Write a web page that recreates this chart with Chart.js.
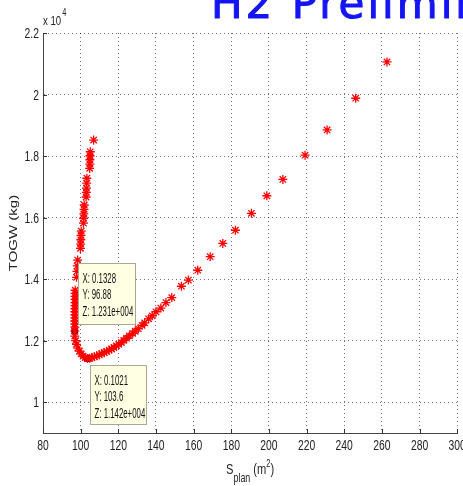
<!DOCTYPE html>
<html>
<head>
<meta charset="utf-8">
<script src="https://cdn.jsdelivr.net/npm/chart.js"></script>
<style>
  html, body { margin: 0; padding: 0; background: #fff; overflow: hidden; }
  #wrap { position: relative; width: 463px; height: 486px; overflow: hidden; }
  #titulo {
    position: absolute; left: 211px; top: -17px;
    font-family: 'DejaVu Sans', sans-serif; font-weight: normal;
    font-size: 42px; line-height: 42px; letter-spacing: 3px;
    color: #1414f5; white-space: nowrap;
    -webkit-text-stroke: 1px #1414f5;
  }
  canvas { position: absolute; left: 0; top: 0; }
</style>
</head>
<body>
<div id="wrap">
  <canvas id="togwChart" width="463" height="486"></canvas>
  <div id="titulo">H2 Preliminary</div>
</div>
<script>
// Superficie en planta (m2) y TOGW (kg) de cada punto del barrido
const splan = [
  106.9,
  105.1, 105.0, 104.9, 104.9, 104.8,
  103.3, 103.2, 103.1, 103.0, 102.9,
  101.9, 101.8, 101.7, 101.6, 101.5,
  100.3, 100.2, 100.1, 100.0, 99.9,
  98.4, 98.2, 98.0, 97.8,
  97.1, 97.1, 97.0, 97.0, 97.0, 97.0, 96.9, 96.9, 96.9, 96.9, 96.9, 96.9, 96.9,
  96.88,
  96.9, 97.3, 97.8, 98.5, 99.3, 100.3, 101.3, 102.4,
  103.6,
  104.8, 106.0, 107.3, 108.6, 109.9, 111.2, 112.5, 113.8, 115.1, 116.4,
  117.7, 119.0, 120.3, 121.6, 122.9, 124.4, 125.9, 127.6, 129.0, 130.6,
  132.6, 134.0, 136.1, 138.0, 140.0, 142.6, 145.3, 148.4,
  153.5, 157.2, 162.2, 168.8, 175.5, 182.2, 190.7, 198.9, 207.4, 219.2,
  230.9, 246.1, 262.7
];
const togw = [
  18520,
  18140, 18010, 17880, 17740, 17600,
  17280, 17120, 16960, 16820, 16670,
  16410, 16270, 16120, 15980, 15820,
  15560, 15420, 15280, 15140, 15000,
  14620, 14430, 14250, 14060,
  13640, 13540, 13440, 13340, 13240, 13140, 13040, 12940, 12840, 12740, 12640, 12540, 12440,
  12310,
  12150, 12000, 11880, 11760, 11660, 11570, 11500, 11450,
  11420,
  11430, 11450, 11480, 11510, 11540, 11580, 11610, 11650, 11690, 11730,
  11780, 11830, 11880, 11940, 12010, 12080, 12160, 12240, 12310, 12390,
  12500, 12580, 12710, 12810, 12940, 13060, 13240, 13400,
  13770, 13970, 14290, 14730, 15160, 15590, 16140, 16710, 17240, 18030,
  18850, 19880, 21060
];

// Cursores de datos (data tips)
const tipParam = [0.1328, 0.1021];
const tipS = [96.88, 103.6];
const tipTogw = [12310, 11420];

// Etiquetas de los ejes
const xTicks = [80, 100, 120, 140, 160, 180, 200, 220, 240, 260, 280, 300];
const yTicks = [10000, 12000, 14000, 16000, 18000, 20000, 22000];

const FUENTE = "'Liberation Sans', Arial, sans-serif";

function formatoZ(v) {
    const e = Math.floor(Math.log10(v));
    const m = (v / Math.pow(10, e)).toFixed(3);
    return m + 'e+' + String(e).padStart(3, '0');
}

// Texto comprimido en horizontal (la captura original esta estrechada)
function textoEstrecho(ctx, txt, x, y, size, align, sx) {
    ctx.save();
    ctx.font = size + 'px ' + FUENTE;
    ctx.textAlign = align;
    ctx.translate(x, y);
    ctx.scale(sx, 1);
    ctx.fillText(txt, 0, 0);
    const w = ctx.measureText(txt).width * sx;
    ctx.restore();
    return w;
}

// Dibuja ticks interiores, etiquetas, titulos y cuadros de los data tips
const decoraciones = {
    id: 'decoraciones',
    afterDraw(chart) {
        const ctx = chart.ctx;
        const xs = chart.scales.x, ys = chart.scales.y;
        const area = chart.chartArea;
        const SX = 0.74;
        ctx.save();

        // ticks hacia adentro
        ctx.strokeStyle = '#333';
        ctx.lineWidth = 1;
        ctx.beginPath();
        xTicks.forEach(v => {
            const px = Math.round(xs.getPixelForValue(v)) + 0.5;
            ctx.moveTo(px, area.bottom);
            ctx.lineTo(px, area.bottom - 4);
        });
        yTicks.forEach(v => {
            const py = Math.round(ys.getPixelForValue(v)) + 0.5;
            ctx.moveTo(area.left, py);
            ctx.lineTo(area.left + 4, py);
        });
        ctx.stroke();

        ctx.fillStyle = '#222';
        ctx.textBaseline = 'alphabetic';

        // etiquetas de los ticks
        xTicks.forEach(v => {
            textoEstrecho(ctx, String(v), xs.getPixelForValue(v), area.bottom + 17, 14, 'center', SX);
        });
        yTicks.forEach(v => {
            textoEstrecho(ctx, String(v / 10000), area.left - 4, ys.getPixelForValue(v) + 5, 14, 'right', SX);
        });

        // factor x 10^4
        let xx = area.left;
        xx += textoEstrecho(ctx, 'x 10', xx, area.top - 8, 13, 'left', SX);
        textoEstrecho(ctx, '4', xx + 1, area.top - 17, 10, 'left', SX);

        // titulo eje X: S_plan (m^2)
        const partes = [
            { t: 'S', s: 15, dy: 0 },
            { t: 'plan', s: 12, dy: 8 },
            { t: ' (m', s: 15, dy: 0 },
            { t: '2', s: 10, dy: -7 },
            { t: ')', s: 15, dy: 0 }
        ];
        let total = 0;
        partes.forEach(p => {
            ctx.font = p.s + 'px ' + FUENTE;
            p.w = ctx.measureText(p.t).width * SX;
            total += p.w;
        });
        let x0 = (area.left + area.right) / 2 - total / 2;
        partes.forEach(p => {
            textoEstrecho(ctx, p.t, x0, 474 + p.dy, p.s, 'left', SX);
            x0 += p.w;
        });

        // titulo eje Y (rotado)
        ctx.save();
        ctx.translate(17, (area.top + area.bottom) / 2);
        ctx.rotate(-Math.PI / 2);
        ctx.scale(1, SX);
        ctx.textAlign = 'center';
        ctx.font = '15px ' + FUENTE;
        ctx.fillText('TOGW (kg)', 0, 0);
        ctx.restore();

        // cuadros de los data tips
        const cajas = [
            { dx: 3, dy: -68, w: 57, h: 61 },
            { dx: 3, dy: 6, w: 56, h: 59 }
        ];
        tipS.forEach((s, i) => {
            const px = xs.getPixelForValue(s);
            const py = ys.getPixelForValue(tipTogw[i]);
            const c = cajas[i];
            const bx = Math.round(px + c.dx) + 0.5;
            const by = Math.round(py + c.dy) + 0.5;
            ctx.fillStyle = '#ffffe3';
            ctx.strokeStyle = '#a8a894';
            ctx.fillRect(bx, by, c.w, c.h);
            ctx.strokeRect(bx, by, c.w, c.h);
            ctx.fillStyle = '#111';
            textoEstrecho(ctx, 'X: ' + tipParam[i].toPrecision(4), bx + 4, by + 19, 14, 'left', 0.56);
            textoEstrecho(ctx, 'Y: ' + s.toPrecision(4), bx + 4, by + 35, 14, 'left', 0.56);
            textoEstrecho(ctx, 'Z: ' + formatoZ(tipTogw[i]), bx + 4, by + 52, 14, 'left', 0.56);
        });

        ctx.restore();
    }
};

const puntos = splan.map((s, i) => ({ x: s, y: togw[i] }));
const marcas = tipS.map((s, i) => ({ x: s, y: tipTogw[i] }));

const ctx = document.getElementById('togwChart').getContext('2d');
new Chart(ctx, {
    type: 'scatter',
    data: {
        datasets: [{
            label: 'TOGW',
            data: puntos,
            pointStyle: 'star',
            pointRadius: 4.5,
            pointBorderWidth: 1.3,
            borderColor: '#ff0000',
            backgroundColor: '#ff0000'
        }, {
            label: 'tips',
            data: marcas,
            pointStyle: 'rect',
            pointRadius: 4,
            pointBorderWidth: 1,
            borderColor: '#000',
            backgroundColor: '#000'
        }]
    },
    options: {
        responsive: false,
        animation: false,
        layout: { padding: { top: 33, right: 4, left: 0, bottom: 0 } },
        plugins: {
            legend: { display: false },
            tooltip: { enabled: false }
        },
        scales: {
            x: {
                type: 'linear',
                min: 80,
                max: 300,
                afterBuildTicks: (scale) => { scale.ticks = xTicks.map(v => ({ value: v })); },
                afterFit: (scale) => {
                    scale.height = 53;
                    scale.paddingLeft = 0;
                    scale.paddingRight = 0;
                },
                ticks: { display: false },
                grid: {
                    color: 'rgba(0,0,0,0.55)',
                    lineWidth: 1,
                    drawTicks: false
                },
                border: { display: true, color: '#444', width: 1, dash: [1, 3] }
            },
            y: {
                type: 'linear',
                min: 9000,
                max: 22000,
                afterBuildTicks: (scale) => { scale.ticks = yTicks.map(v => ({ value: v })); },
                afterFit: (scale) => {
                    scale.width = 43;
                    scale.paddingTop = 0;
                    scale.paddingBottom = 0;
                },
                ticks: { display: false },
                grid: {
                    color: 'rgba(0,0,0,0.55)',
                    lineWidth: 1,
                    drawTicks: false
                },
                border: { display: true, color: '#444', width: 1, dash: [1, 3] }
            }
        }
    },
    plugins: [decoraciones]
});
</script>
</body>
</html>
